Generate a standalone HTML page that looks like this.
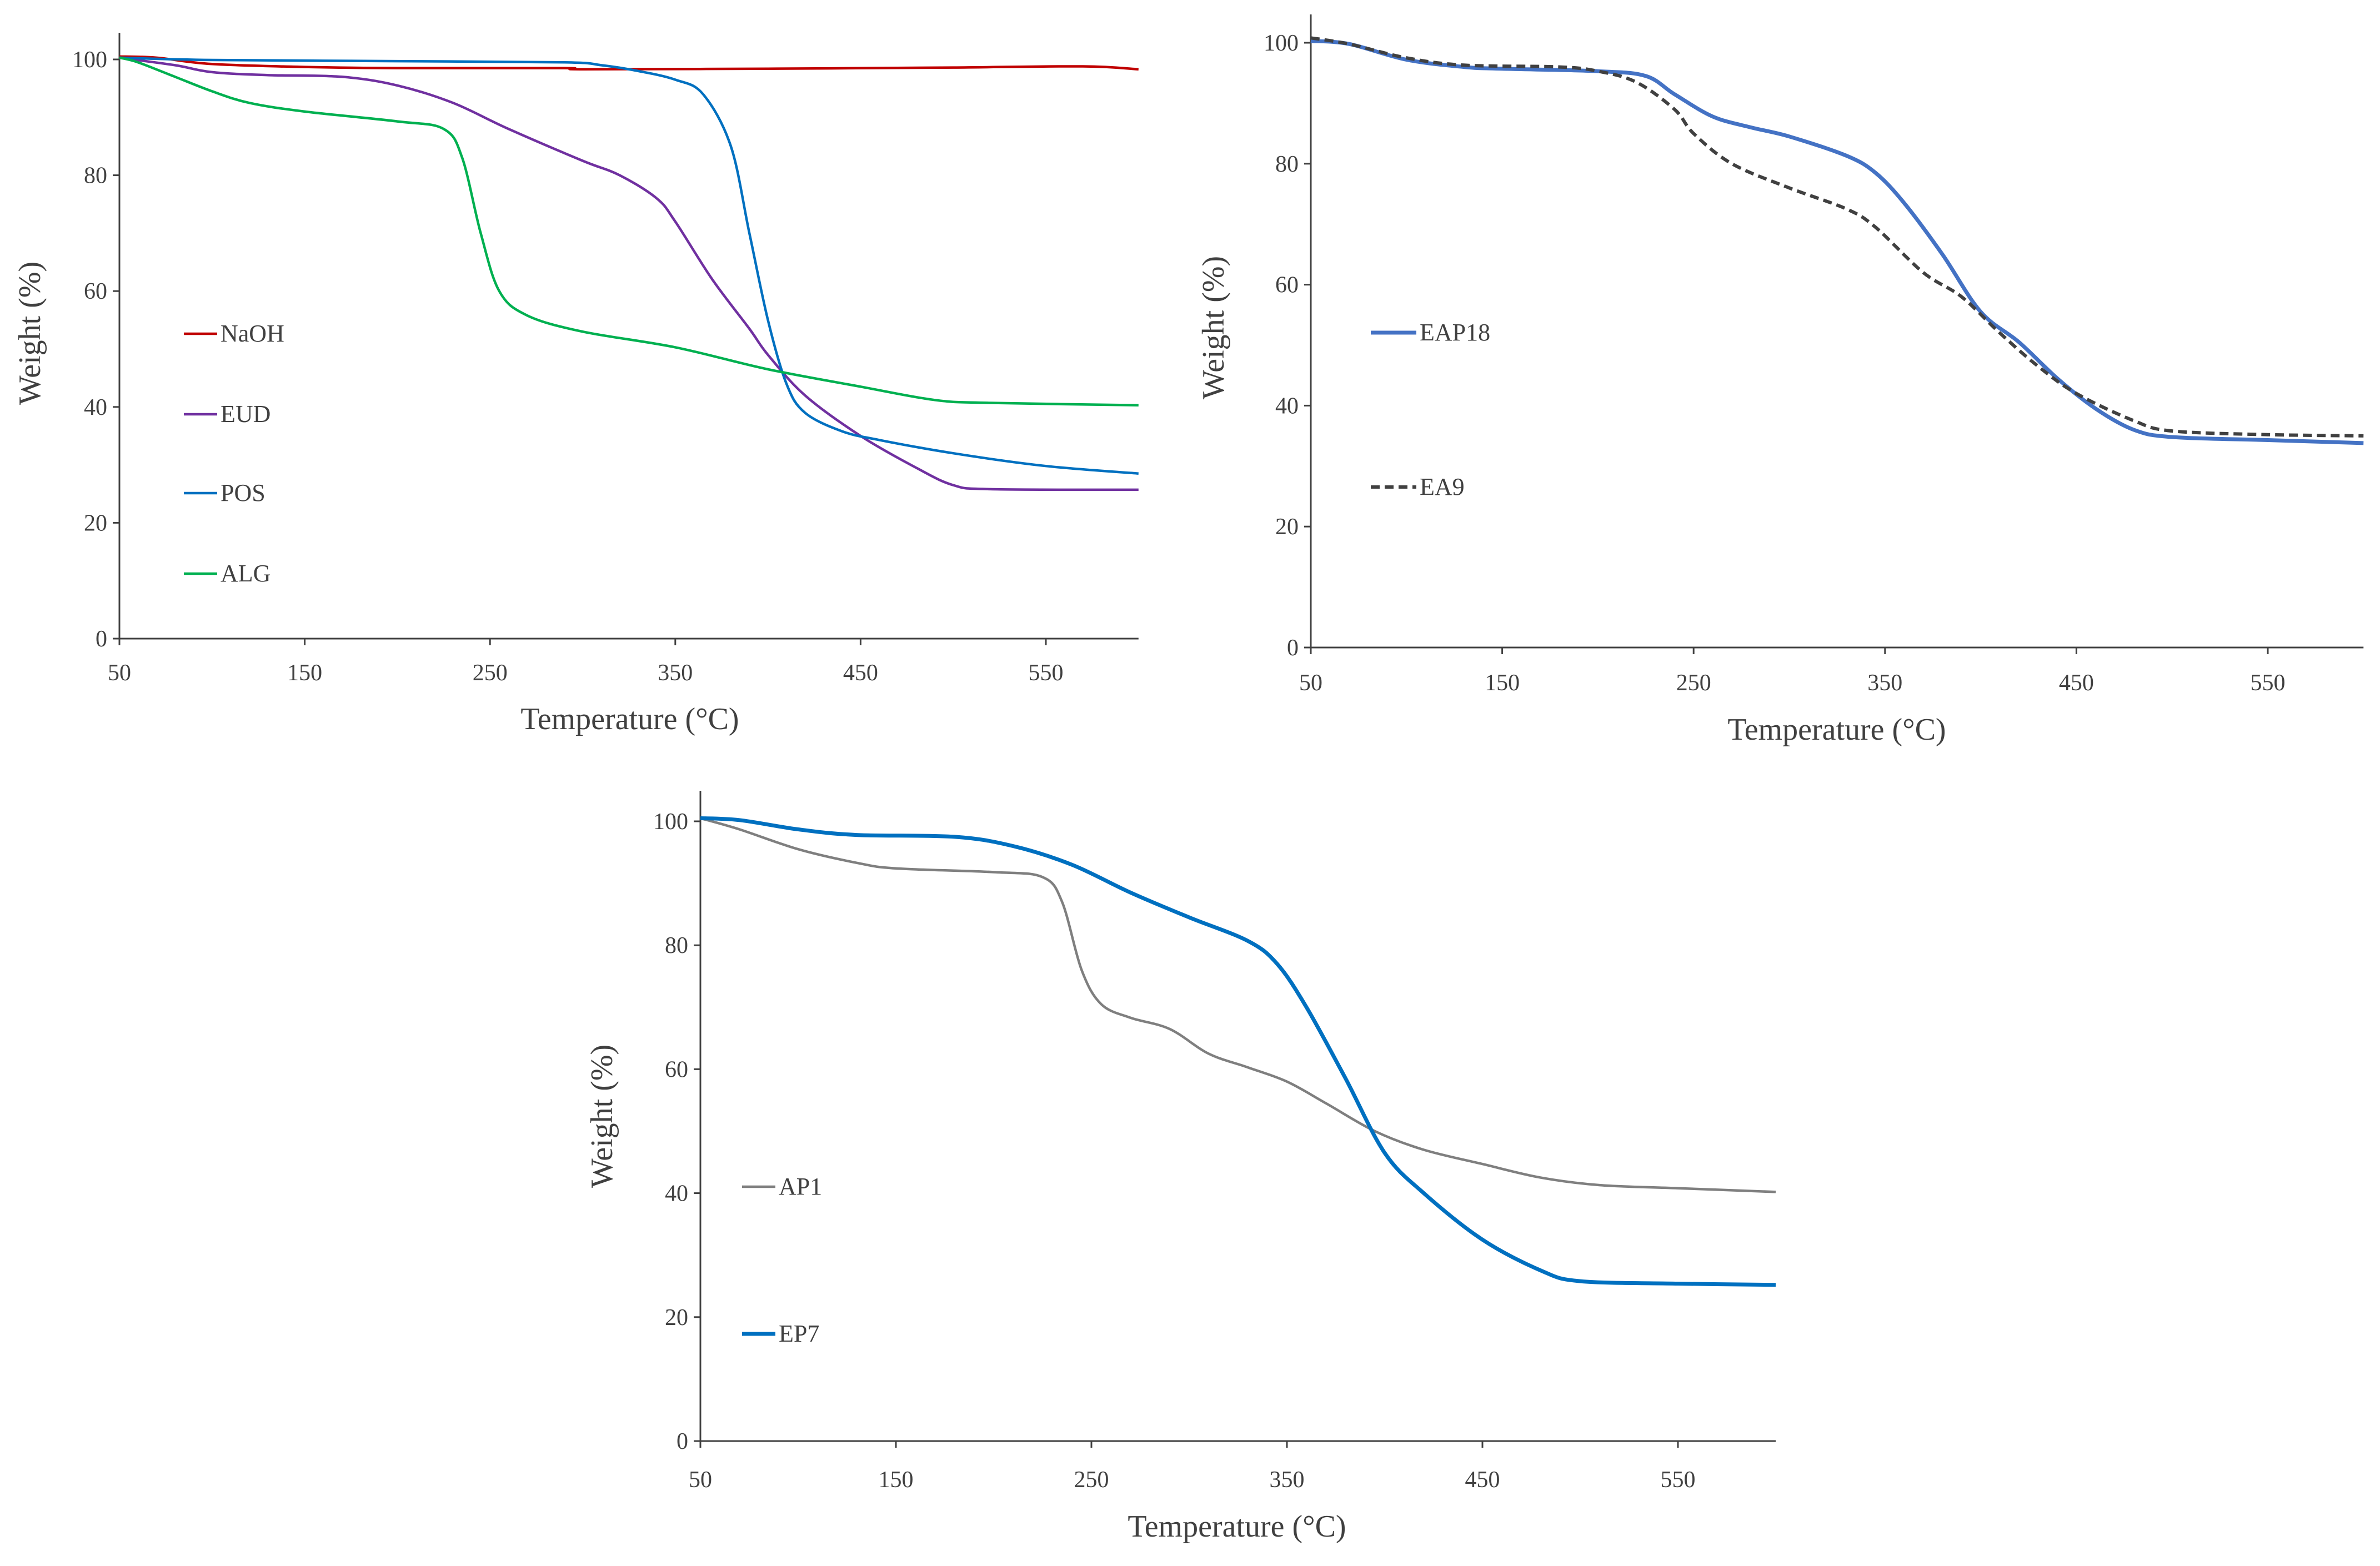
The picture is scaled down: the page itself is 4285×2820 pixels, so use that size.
<!DOCTYPE html>
<html><head><meta charset="utf-8"><style>
html,body{margin:0;padding:0;background:#fff;}
svg{display:block;}
text{font-family:"Liberation Serif",serif;fill:#404040;}
</style></head><body>
<svg id="fig" width="4285" height="2820" viewBox="0 0 4285 2820" xmlns="http://www.w3.org/2000/svg"></svg>
<script>
// ---------- data ----------
const xTicks = [50,150,250,350,450,550];
const yTicks = [0,20,40,60,80,100];
// Chart A
const naohT = [50,70,100,150,200,290,300,400,500,570,600];
const naohW = [100.5,100.3,99.2,98.7,98.5,98.5,98.3,98.4,98.6,98.8,98.3];
const eudT = [50,80,100,130,170,200,230,260,300,320,340,350,370,390,400,420,450,480,500,520,600];
const eudW = [100.3,99,97.8,97.3,97,95.5,92.5,88,82.5,80,76,72,62,53.5,49,42,35,29.5,26.5,25.8,25.7];
const posT = [50,100,200,290,310,330,350,365,380,390,400,410,420,440,460,500,550,600];
const posW = [100.3,99.9,99.7,99.5,99,98,96.5,94,85,70,55,44,39,35.8,34.3,32,29.8,28.5];
const algT = [50,60,80,100,120,150,200,225,235,245,255,270,300,350,400,450,490,520,600];
const algW = [100.3,99.5,97,94.5,92.5,91,89.3,88,83,70,60,55.8,53,50.3,46.5,43.5,41.2,40.7,40.3];
// Chart B
const eap18T = [50,70,100,130,150,200,225,240,260,280,300,330,345,360,380,400,420,440,460,480,500,550,600];
const eap18W = [100.3,99.8,97.2,96,95.7,95.3,94.5,91.5,87.8,86,84.5,81.3,78.5,73.5,65,55.5,50.5,44.5,39.5,36,34.8,34.3,33.8];
const ea9T = [50,70,100,130,180,200,220,240,250,270,300,330,345,370,390,410,430,450,480,500,550,600];
const ea9W = [100.8,99.8,97.5,96.3,96,95.3,93.5,89,85,80,76,72.5,69.5,62,58,52,46.5,42,37.5,35.8,35.2,35];
// Chart C
const ap1T = [50,70,100,130,150,200,225,235,245,255,270,290,310,330,350,370,395,420,450,480,510,550,600];
const ap1W = [100.5,98.7,95.5,93.3,92.4,91.8,91,87,76,70.5,68.3,66.5,62.5,60.3,58,54.5,50,47,44.7,42.5,41.3,40.8,40.2];
const ep7T = [50,70,100,130,180,210,240,270,300,330,345,360,380,400,420,450,480,500,550,600];
const ep7W = [100.5,100.2,98.7,97.8,97.5,96,93,88.5,84.5,80.7,77,70,58.5,46.5,40,32.5,27.5,25.8,25.4,25.2];

// ---------- drawing ----------
const NS="http://www.w3.org/2000/svg";
const svg=document.getElementById('fig');
function mk(tag,attrs,parent){const e=document.createElementNS(NS,tag);for(const k in attrs)e.setAttribute(k,attrs[k]);(parent||svg).appendChild(e);return e;}
function smooth(pts){let d=`M${pts[0][0]},${pts[0][1]}`;for(let i=0;i<pts.length-1;i++){const p0=pts[Math.max(i-1,0)],p1=pts[i],p2=pts[i+1],p3=pts[Math.min(i+2,pts.length-1)];const c1=[p1[0]+(p2[0]-p0[0])/6,p1[1]+(p2[1]-p0[1])/6],c2=[p2[0]-(p3[0]-p1[0])/6,p2[1]-(p3[1]-p1[1])/6];d+=` C${c1[0].toFixed(1)},${c1[1].toFixed(1)} ${c2[0].toFixed(1)},${c2[1].toFixed(1)} ${p2[0].toFixed(1)},${p2[1].toFixed(1)}`;}return d;}

function chart(cfg){
  const g=mk('g',{});
  
  
  const X=t=>cfg.x0+(t-50)/500*(cfg.x550-cfg.x0);
  const Y=w=>cfg.y0-w/100*(cfg.y0-cfg.y100);
  const xEnd=X(600);
  const ya=mk('line',{x1:cfg.x0,y1:cfg.top,x2:cfg.x0,y2:cfg.y0,stroke:'#404040','stroke-width':3},g);
  
  
  const xa=mk('line',{x1:cfg.x0,y1:cfg.y0,x2:xEnd,y2:cfg.y0,stroke:'#404040','stroke-width':3},g);
  
  
  yTicks.forEach(v=>{
    mk('line',{x1:cfg.x0-12,y1:Y(v),x2:cfg.x0,y2:Y(v),stroke:'#404040','stroke-width':3},g);
    const t=mk('text',{x:cfg.x0-22,y:Y(v)+14,'text-anchor':'end','font-size':42},g);t.textContent=v;
    
    
  });
  xTicks.forEach(v=>{
    mk('line',{x1:X(v),y1:cfg.y0,x2:X(v),y2:cfg.y0+12,stroke:'#404040','stroke-width':3},g);
    const t=mk('text',{x:X(v),y:cfg.xly,'text-anchor':'middle','font-size':42},g);t.textContent=v;
    
    
  });
  const xt=mk('text',{x:cfg.xtx,y:cfg.xty,'text-anchor':'middle','font-size':56},g);xt.textContent='Temperature (°C)';
  
  
  const yt=mk('text',{x:0,y:0,'text-anchor':'middle','font-size':56,transform:`translate(${cfg.ytx},${cfg.yty}) rotate(-90)`},g);yt.textContent='Weight (%)';
  
  
  cfg.series.forEach(s=>{
    const pts=s.T.map((t,i)=>[X(t),Y(s.W[i])]);
    const p=mk('path',{d:smooth(pts),fill:'none',stroke:s.c,'stroke-width':s.w,'stroke-dasharray':s.dash||'none','stroke-linejoin':'round'},g);
    
    
    const l=mk('line',{x1:s.lx,y1:s.ly,x2:s.lx+(s.ll||60),y2:s.ly,stroke:s.c,'stroke-width':s.w,'stroke-dasharray':s.dash||'none'},g);
    
    
    const tx=mk('text',{x:s.lx+(s.ll||60)+6,y:s.ly+14,'font-size':44},g);tx.textContent=s.n;
    
    
  });
}
chart({name:'chart-a',x0:215,x550:1883,y0:1150,y100:107,top:59,xly:1225,xtx:1134,xty:1313,ytx:72,yty:600,series:[
  {n:'NaOH',T:naohT,W:naohW,c:'#c00000',w:4.5,lx:331,ly:601},
  {n:'EUD',T:eudT,W:eudW,c:'#7030a0',w:4.5,lx:331,ly:746},
  {n:'POS',T:posT,W:posW,c:'#0070c0',w:4.5,lx:331,ly:888},
  {n:'ALG',T:algT,W:algW,c:'#00b050',w:4.5,lx:331,ly:1033}]});
chart({name:'chart-b',x0:2360,x550:4083,y0:1166,y100:77,top:26,xly:1243,xtx:3307,xty:1332,ytx:2203,yty:590,series:[
  {n:'EAP18',T:eap18T,W:eap18W,c:'#4472c4',w:7,lx:2468,ly:599,ll:82},
  {n:'EA9',T:ea9T,W:ea9W,c:'#404040',w:6,dash:'16 9',lx:2468,ly:877,ll:82}]});
chart({name:'chart-c',x0:1261,x550:3021,y0:2595,y100:1479,top:1424,xly:2678,xtx:2227,xty:2767,ytx:1102,yty:2010,series:[
  {n:'AP1',T:ap1T,W:ap1W,c:'#7f7f7f',w:4.5,lx:1336,ly:2137},
  {n:'EP7',T:ep7T,W:ep7W,c:'#0070c0',w:7,lx:1336,ly:2402}]});
</script>
</body></html>
